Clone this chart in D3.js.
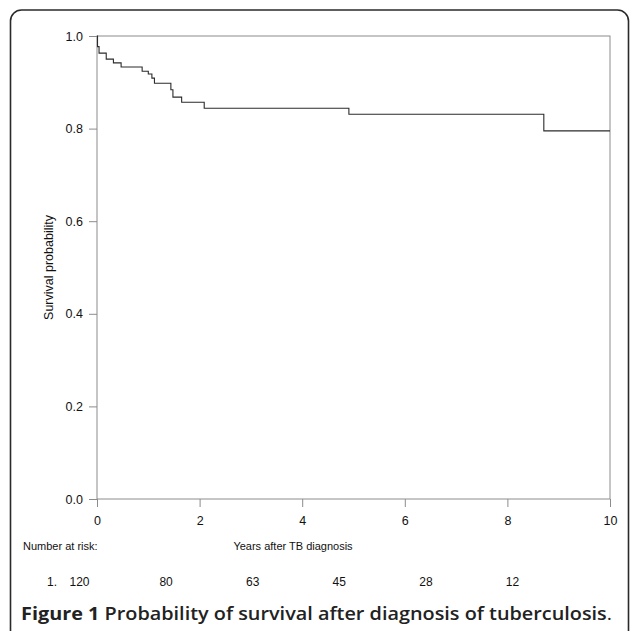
<!DOCTYPE html>
<html>
  <head>
    <script src="https://d3js.org/d3.v7.min.js"></script>
  </head>
  <body style="margin:0;background:#fff;">
    <div id="chart"></div>
    <script>
      // Kaplan-Meier steps (years, survival)
      const eventYears = [0, 0.01, 0.04, 0.18, 0.32, 0.47, 0.88, 1.0, 1.07, 1.12, 1.44, 1.48, 1.65, 2.09, 4.91, 8.71];
      const survival  = [1.0, 0.977, 0.963, 0.95, 0.942, 0.933, 0.924, 0.918, 0.909, 0.898, 0.884, 0.868, 0.857, 0.844, 0.831, 0.795];
      const followUpEnd = 10;

      const xTicks = [0, 2, 4, 6, 8, 10];
      const yTicks = [0, 0.2, 0.4, 0.6, 0.8, 1.0];
      const riskYears = [0, 2, 4, 6, 8, 10];
      const atRisk = [120, 80, 63, 45, 28, 12];

      const width = 630, height = 631;
      const margin = {top: 36, right: 20, bottom: 132, left: 97};
      const axisColor = "#8c8c8c";

      const svg = d3.create("svg")
        .attr("width", width)
        .attr("height", height)
        .style("font-family", "'Liberation Sans', Arial, sans-serif");

      // rounded frame of the figure panel
      svg.append("rect")
        .attr("x", 10.5).attr("y", 10)
        .attr("width", 618).attr("height", 650)
        .attr("rx", 11)
        .attr("fill", "none")
        .attr("stroke", "#2a2a2a")
        .attr("stroke-width", 1.6);

      const x = d3.scaleLinear()
        .domain([0, 10])
        .range([margin.left, width - margin.right]);

      const y = d3.scaleLinear()
        .domain([0, 1])
        .range([height - margin.bottom, margin.top]);

      // box round the plot
      svg.append("rect")
        .attr("x", x(0)).attr("y", y(1))
        .attr("width", x(10) - x(0)).attr("height", y(0) - y(1))
        .attr("fill", "none")
        .attr("stroke", axisColor);

      const xAxis = svg.append("g")
        .attr("transform", `translate(0,${y(0)})`)
        .call(d3.axisBottom(x).tickValues(xTicks).tickFormat(d3.format("d")).tickSize(8).tickPadding(9));

      const yAxis = svg.append("g")
        .attr("transform", `translate(${x(0)},0)`)
        .call(d3.axisLeft(y).tickValues(yTicks).tickFormat(d3.format(".1f")).tickSize(8).tickPadding(6));

      [xAxis, yAxis].forEach(g => {
        g.select(".domain").remove();
        g.selectAll("line").attr("stroke", axisColor);
        g.selectAll("text").attr("fill", "#111").style("font-size", "12.5px").style("font-family", "'Liberation Sans', Arial, sans-serif");
      });

      // survival curve
      const pts = eventYears.map((t, i) => [t, survival[i]]);
      pts.push([followUpEnd, survival[survival.length - 1]]);

      const line = d3.line()
        .x(d => x(d[0]))
        .y(d => y(d[1]))
        .curve(d3.curveStepAfter);

      svg.append("path")
        .datum(pts)
        .attr("d", line)
        .attr("fill", "none")
        .attr("stroke", "#2b2b2b")
        .attr("stroke-width", 1.1);

      // axis titles
      svg.append("text")
        .attr("transform", `translate(53,${(y(0) + y(1)) / 2}) rotate(-90)`)
        .attr("text-anchor", "middle")
        .style("font-size", "12.5px")
        .attr("fill", "#111")
        .text("Survival probability");

      svg.append("text")
        .attr("x", 293).attr("y", 550)
        .attr("text-anchor", "middle")
        .style("font-size", "11px")
        .attr("fill", "#111")
        .text("Years after TB diagnosis");

      // number at risk table
      svg.append("text")
        .attr("x", 23).attr("y", 550)
        .style("font-size", "11px")
        .attr("fill", "#111")
        .text("Number at risk:");

      svg.append("text")
        .attr("x", 47).attr("y", 586)
        .style("font-size", "12px")
        .attr("fill", "#111")
        .text("1.");

      const riskX = d3.scaleLinear()
        .domain([0, 10])
        .range([79.5, 512.5]);

      svg.append("g")
        .selectAll("text")
        .data(riskYears)
        .join("text")
        .attr("x", d => riskX(d))
        .attr("y", 586)
        .attr("text-anchor", "middle")
        .style("font-size", "12px")
        .attr("fill", "#111")
        .text((d, i) => atRisk[i]);

      // caption
      const cap = svg.append("text")
        .attr("x", 21).attr("y", 620)
        .attr("textLength", 591)
        .attr("lengthAdjust", "spacingAndGlyphs")
        .style("font-family", "'Open Sans', 'Noto Sans', sans-serif")
        .style("font-size", "18px")
        .attr("fill", "#222");
      cap.append("tspan").style("font-weight", 700).text("Figure 1 ");
      cap.append("tspan").style("font-weight", 600).text("Probability of survival after diagnosis of tuberculosis");
      cap.append("tspan").style("font-weight", 400).text(".");

      document.getElementById("chart").appendChild(svg.node());
    </script>
  </body>
</html>
